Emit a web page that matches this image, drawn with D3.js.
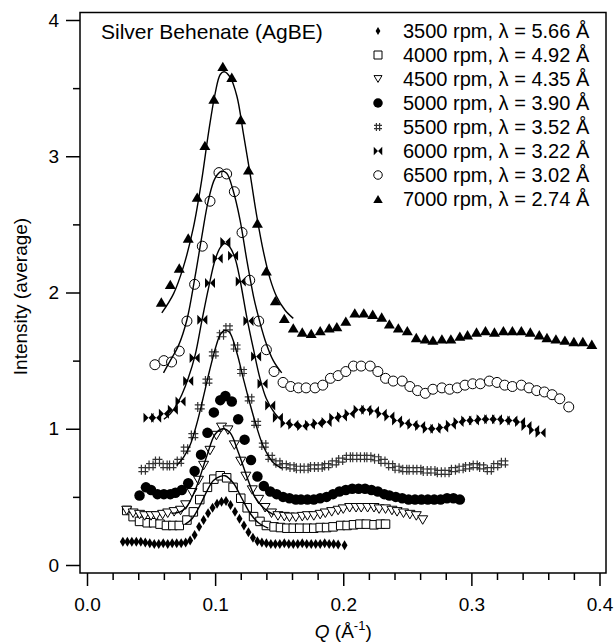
<!DOCTYPE html>
<html>
<head>
<meta charset="utf-8">
<script src="https://cdn.jsdelivr.net/npm/d3@7"></script>
<style>
  body { margin: 0; background: #fff; }
  svg { display: block; font-family: "Liberation Sans", Arial, sans-serif; }
</style>
</head>
<body>
<div id="chart"></div>
<script>
// ---- data: [Q (1/Å), intensity] ----
const rpm3500 = [[0.028,0.17],[0.0315,0.17],[0.035,0.17],[0.0385,0.17],[0.042,0.17],[0.0455,0.165],[0.049,0.16],[0.0525,0.155],[0.056,0.155],[0.0595,0.16],[0.063,0.155],[0.0665,0.16],[0.070,0.16],[0.0735,0.16],[0.077,0.165],[0.0805,0.18],[0.084,0.22],[0.0875,0.28],[0.091,0.33],[0.0945,0.38],[0.098,0.42],[0.1015,0.45],[0.105,0.465],[0.1085,0.47],[0.112,0.44],[0.1155,0.39],[0.119,0.34],[0.1225,0.29],[0.126,0.24],[0.1295,0.20],[0.133,0.175],[0.1365,0.165],[0.140,0.16],[0.1435,0.155],[0.147,0.155],[0.1505,0.155],[0.154,0.16],[0.1575,0.155],[0.161,0.155],[0.1645,0.155],[0.168,0.16],[0.1715,0.155],[0.175,0.155],[0.1785,0.155],[0.182,0.155],[0.1855,0.16],[0.189,0.155],[0.1925,0.155],[0.196,0.15],[0.201,0.145]];
const rpm4000 = [[0.031,0.40],[0.036,0.355],[0.041,0.32],[0.047,0.31],[0.052,0.31],[0.057,0.30],[0.062,0.29],[0.067,0.29],[0.072,0.29],[0.078,0.33],[0.083,0.39],[0.088,0.48],[0.094,0.57],[0.099,0.63],[0.104,0.655],[0.109,0.64],[0.114,0.57],[0.120,0.49],[0.125,0.42],[0.130,0.355],[0.135,0.32],[0.140,0.29],[0.146,0.28],[0.151,0.275],[0.156,0.27],[0.161,0.27],[0.166,0.27],[0.172,0.27],[0.177,0.27],[0.182,0.275],[0.187,0.275],[0.192,0.28],[0.198,0.29],[0.203,0.29],[0.208,0.295],[0.213,0.30],[0.218,0.30],[0.224,0.295],[0.229,0.30],[0.233,0.30]];
const rpm4500 = [[0.031,0.40],[0.036,0.38],[0.041,0.37],[0.045,0.36],[0.050,0.36],[0.054,0.36],[0.059,0.37],[0.063,0.38],[0.068,0.39],[0.073,0.40],[0.077,0.44],[0.082,0.53],[0.087,0.62],[0.091,0.73],[0.096,0.84],[0.101,0.95],[0.105,1.01],[0.110,0.99],[0.115,0.88],[0.120,0.76],[0.124,0.65],[0.129,0.55],[0.134,0.48],[0.139,0.42],[0.144,0.38],[0.149,0.36],[0.154,0.355],[0.158,0.35],[0.163,0.35],[0.168,0.355],[0.172,0.36],[0.177,0.36],[0.182,0.37],[0.186,0.38],[0.191,0.39],[0.196,0.40],[0.200,0.41],[0.205,0.42],[0.210,0.42],[0.214,0.42],[0.219,0.42],[0.224,0.42],[0.228,0.41],[0.233,0.41],[0.238,0.40],[0.242,0.39],[0.247,0.38],[0.252,0.37],[0.257,0.36],[0.262,0.33]];
const rpm5000 = [[0.041,0.51],[0.046,0.57],[0.050,0.55],[0.055,0.52],[0.060,0.52],[0.065,0.52],[0.069,0.53],[0.074,0.55],[0.079,0.60],[0.084,0.69],[0.089,0.81],[0.094,0.97],[0.099,1.12],[0.104,1.21],[0.108,1.24],[0.113,1.20],[0.118,1.07],[0.123,0.92],[0.128,0.77],[0.133,0.65],[0.138,0.58],[0.143,0.54],[0.148,0.52],[0.153,0.50],[0.158,0.49],[0.163,0.48],[0.167,0.48],[0.172,0.48],[0.177,0.48],[0.182,0.49],[0.187,0.50],[0.192,0.52],[0.197,0.54],[0.202,0.55],[0.207,0.56],[0.212,0.56],[0.217,0.56],[0.222,0.55],[0.227,0.54],[0.232,0.52],[0.236,0.51],[0.241,0.50],[0.246,0.49],[0.251,0.48],[0.256,0.48],[0.261,0.48],[0.266,0.48],[0.271,0.48],[0.276,0.48],[0.281,0.49],[0.286,0.49],[0.291,0.48]];
const rpm5500 = [[0.044,0.70],[0.050,0.73],[0.055,0.76],[0.061,0.73],[0.066,0.73],[0.072,0.76],[0.077,0.85],[0.083,0.95],[0.088,1.16],[0.094,1.35],[0.099,1.55],[0.105,1.69],[0.110,1.74],[0.116,1.60],[0.121,1.42],[0.127,1.22],[0.132,1.04],[0.138,0.88],[0.143,0.79],[0.149,0.75],[0.154,0.73],[0.160,0.72],[0.165,0.71],[0.171,0.71],[0.176,0.72],[0.182,0.72],[0.187,0.73],[0.193,0.75],[0.198,0.77],[0.204,0.79],[0.209,0.79],[0.215,0.79],[0.220,0.79],[0.226,0.78],[0.231,0.76],[0.237,0.73],[0.242,0.71],[0.248,0.70],[0.253,0.70],[0.259,0.70],[0.264,0.69],[0.270,0.69],[0.275,0.68],[0.281,0.68],[0.286,0.70],[0.292,0.71],[0.297,0.72],[0.303,0.73],[0.308,0.72],[0.314,0.70],[0.319,0.73],[0.325,0.75]];
const rpm6000 = [[0.048,1.08],[0.054,1.08],[0.060,1.11],[0.067,1.14],[0.073,1.20],[0.079,1.35],[0.084,1.52],[0.090,1.80],[0.096,2.07],[0.102,2.25],[0.108,2.37],[0.114,2.27],[0.120,2.08],[0.126,1.79],[0.132,1.53],[0.137,1.33],[0.143,1.17],[0.149,1.08],[0.155,1.04],[0.161,1.03],[0.168,1.02],[0.174,1.03],[0.180,1.04],[0.187,1.05],[0.193,1.08],[0.199,1.09],[0.205,1.11],[0.212,1.14],[0.218,1.14],[0.224,1.13],[0.230,1.11],[0.236,1.09],[0.242,1.06],[0.248,1.04],[0.254,1.03],[0.260,1.02],[0.266,1.00],[0.272,1.00],[0.278,1.01],[0.284,1.03],[0.290,1.05],[0.296,1.06],[0.302,1.06],[0.308,1.07],[0.314,1.07],[0.320,1.07],[0.326,1.06],[0.332,1.06],[0.338,1.05],[0.343,1.02],[0.349,0.99],[0.354,0.97]];
const rpm6500 = [[0.053,1.47],[0.060,1.50],[0.066,1.49],[0.072,1.57],[0.078,1.79],[0.084,2.06],[0.090,2.34],[0.096,2.67],[0.103,2.88],[0.109,2.87],[0.115,2.74],[0.121,2.44],[0.127,2.09],[0.134,1.79],[0.140,1.58],[0.146,1.42],[0.153,1.34],[0.159,1.31],[0.165,1.30],[0.171,1.30],[0.178,1.30],[0.184,1.32],[0.190,1.37],[0.196,1.39],[0.202,1.42],[0.208,1.46],[0.214,1.46],[0.221,1.46],[0.227,1.42],[0.233,1.37],[0.239,1.35],[0.246,1.35],[0.252,1.31],[0.258,1.28],[0.264,1.26],[0.270,1.29],[0.277,1.30],[0.283,1.29],[0.289,1.30],[0.295,1.32],[0.301,1.33],[0.307,1.33],[0.314,1.35],[0.320,1.34],[0.326,1.32],[0.332,1.31],[0.339,1.32],[0.345,1.30],[0.351,1.28],[0.357,1.27],[0.363,1.25],[0.369,1.22],[0.376,1.16]];
const rpm7000 = [[0.058,1.93],[0.065,2.06],[0.072,2.18],[0.079,2.40],[0.086,2.70],[0.092,3.08],[0.099,3.42],[0.106,3.66],[0.113,3.58],[0.120,3.27],[0.126,2.90],[0.133,2.51],[0.140,2.16],[0.147,1.94],[0.154,1.81],[0.161,1.74],[0.168,1.71],[0.175,1.70],[0.182,1.72],[0.189,1.74],[0.195,1.75],[0.202,1.79],[0.209,1.85],[0.216,1.85],[0.223,1.84],[0.230,1.82],[0.236,1.77],[0.243,1.74],[0.250,1.72],[0.257,1.67],[0.264,1.66],[0.270,1.65],[0.277,1.66],[0.284,1.66],[0.291,1.68],[0.297,1.69],[0.304,1.71],[0.311,1.72],[0.318,1.71],[0.325,1.72],[0.332,1.72],[0.339,1.72],[0.346,1.71],[0.353,1.69],[0.359,1.67],[0.366,1.66],[0.373,1.65],[0.380,1.64],[0.387,1.64],[0.394,1.62]];

// fitted peak curves (solid lines)
const fit4000 = [[0.0767,0.30],[0.082,0.34],[0.0883,0.44],[0.094,0.55],[0.0987,0.62],[0.1039,0.65],[0.1078,0.655],[0.1143,0.60],[0.1208,0.49],[0.1273,0.38],[0.1338,0.31],[0.1415,0.27]];
const fit4500 = [[0.066,0.38],[0.0727,0.39],[0.078,0.43],[0.0857,0.58],[0.0935,0.80],[0.100,0.96],[0.106,1.00],[0.1117,0.97],[0.118,0.83],[0.1247,0.65],[0.131,0.50],[0.1377,0.42],[0.1455,0.37]];
const fit5500 = [[0.070,0.73],[0.0753,0.79],[0.0805,0.88],[0.0855,1.03],[0.0905,1.22],[0.0955,1.42],[0.1005,1.60],[0.104,1.69],[0.107,1.72],[0.111,1.71],[0.1169,1.56],[0.122,1.37],[0.1273,1.18],[0.1325,1.01],[0.1377,0.87],[0.1455,0.75],[0.152,0.71]];
const fit6000 = [[0.060,1.07],[0.065,1.11],[0.069,1.16],[0.074,1.25],[0.079,1.37],[0.0844,1.54],[0.0896,1.79],[0.0948,2.03],[0.100,2.24],[0.104,2.33],[0.1075,2.36],[0.111,2.34],[0.1156,2.25],[0.1195,2.09],[0.1247,1.82],[0.130,1.58],[0.135,1.37],[0.140,1.22],[0.1468,1.11],[0.152,1.06]];
const fit6500 = [[0.0597,1.41],[0.065,1.50],[0.0714,1.61],[0.078,1.80],[0.0844,2.12],[0.0896,2.41],[0.0948,2.68],[0.100,2.84],[0.105,2.89],[0.109,2.875],[0.114,2.75],[0.1195,2.53],[0.1247,2.24],[0.130,1.97],[0.1325,1.87],[0.139,1.65],[0.1454,1.50],[0.152,1.41]];
const fit7000 = [[0.0584,1.85],[0.0675,1.99],[0.0753,2.19],[0.0831,2.48],[0.0896,2.83],[0.0948,3.17],[0.100,3.46],[0.104,3.60],[0.107,3.62],[0.1117,3.58],[0.117,3.44],[0.122,3.17],[0.1273,2.87],[0.1325,2.56],[0.1377,2.30],[0.1429,2.10],[0.148,1.97],[0.1546,1.87],[0.161,1.81]];

const legendLabels = ["3500 rpm, λ = 5.66 Å", "4000 rpm, λ = 4.92 Å", "4500 rpm, λ = 4.35 Å", "5000 rpm, λ = 3.90 Å",
                      "5500 rpm, λ = 3.52 Å", "6000 rpm, λ = 3.22 Å", "6500 rpm, λ = 3.02 Å", "7000 rpm, λ = 2.74 Å"];
const markers = ["diamond", "square", "tridown", "dot", "hash", "bowtie", "circle", "triup"];
const seriesData = [rpm3500, rpm4000, rpm4500, rpm5000, rpm5500, rpm6000, rpm6500, rpm7000];
const fits = [fit4000, fit4500, fit5500, fit6000, fit6500, fit7000];
const xTicks = [0, 0.1, 0.2, 0.3, 0.4];
const yTicks = [0, 1, 2, 3, 4];

// ---- layout ----
const width = 614, height = 643;
const frame = { left: 80, top: 12.5, right: 606, bottom: 573 };

const x = d3.scaleLinear().domain([0, 0.4]).range([87, 599.5]);
const y = d3.scaleLinear().domain([0, 4]).range([565, 20]);

const svg = d3.select("#chart").append("svg")
    .attr("width", width)
    .attr("height", height);

// frame box
svg.append("rect")
    .attr("x", frame.left).attr("y", frame.top)
    .attr("width", frame.right - frame.left)
    .attr("height", frame.bottom - frame.top)
    .attr("fill", "none").attr("stroke", "#000").attr("stroke-width", 1.5);

// axes
function styleAxis(g) {
  g.select(".domain").remove();
  g.selectAll("line").attr("stroke", "#000").attr("stroke-width", 1.5);
  g.selectAll("text").attr("fill", "#000").style("font-size", "19px")
    .style("font-family", '"Liberation Sans", Arial, sans-serif');
}

svg.append("g")
    .attr("transform", `translate(0,${frame.bottom})`)
    .call(d3.axisBottom(x).tickValues(xTicks).tickSize(13).tickPadding(12).tickFormat(d3.format(".1f")))
    .call(styleAxis);

svg.append("g")
    .attr("transform", `translate(0,${frame.bottom})`)
    .call(d3.axisBottom(x).tickValues(d3.range(1, 20).filter(i => i % 5).map(i => i * 0.02)).tickSize(7).tickFormat(""))
    .call(styleAxis);

svg.append("g")
    .attr("transform", `translate(${frame.left},0)`)
    .call(d3.axisLeft(y).tickValues(yTicks).tickSize(14).tickPadding(7).tickFormat(d3.format("d")))
    .call(styleAxis);

svg.append("g")
    .attr("transform", `translate(${frame.left},0)`)
    .call(d3.axisLeft(y).tickValues([0.5, 1.5, 2.5, 3.5]).tickSize(7).tickFormat(""))
    .call(styleAxis);

// axis labels
const xLabel = svg.append("text")
    .attr("x", (x(0) + x(0.4)) / 2)
    .attr("y", 638)
    .attr("text-anchor", "middle")
    .style("font-size", "19px");
xLabel.append("tspan").style("font-style", "italic").text("Q");
xLabel.append("tspan").text(" (Å");
xLabel.append("tspan").attr("dy", -8).style("font-size", "13px").text("-1");
xLabel.append("tspan").attr("dy", 8).text(")");

svg.append("text")
    .attr("transform", `translate(27,${y(2) + 4}) rotate(-90)`)
    .attr("text-anchor", "middle")
    .style("font-size", "19px")
    .text("Intensity (average)");

svg.append("text")
    .attr("x", 101).attr("y", 39)
    .style("font-size", "21px")
    .text("Silver Behenate (AgBE)");

// marker shapes
function markerPath(type, s) {
  const h = s / 2;
  switch (type) {
    case "diamond": return `M0,${-h}L${h * 0.6},0L0,${h}L${-h * 0.6},0Z`;
    case "square": return `M${-h},${-h}H${h}V${h}H${-h}Z`;
    case "tridown": return `M${-h},${-h * 0.85}H${h}L0,${h * 0.85}Z`;
    case "triup": return `M${-h},${h * 0.85}H${h}L0,${-h * 0.85}Z`;
    case "bowtie": return `M${-h},${-h}L0,0L${-h},${h}ZM${h},${-h}L0,0L${h},${h}Z`;
    case "hash": {
      const a = h * 0.4;
      return `M${-a},${-h}V${h}M${a},${-h}V${h}M${-h},${-a}H${h}M${-h},${a}H${h}`;
    }
    default: return d3.symbol(d3.symbolCircle, Math.PI * h * h)();
  }
}

function styleMarker(sel, type) {
  const open = type === "square" || type === "tridown" || type === "circle";
  if (type === "hash") {
    sel.attr("fill", "none").attr("stroke", "#333").attr("stroke-width", 1.2);
  } else if (open) {
    sel.attr("fill", "#fff").attr("stroke", "#000").attr("stroke-width", 1);
  } else {
    sel.attr("fill", "#000").attr("stroke", "none");
  }
}

const plotSize = { diamond: 10, square: 8.5, tridown: 10, dot: 10.5, hash: 10, bowtie: 10, circle: 10, triup: 11 };
const legendSize = { diamond: 8, square: 8, tridown: 8, dot: 9.5, hash: 8, bowtie: 8.5, circle: 8.5, triup: 9.5 };

// data markers
seriesData.forEach((data, i) => {
  const type = markers[i];
  svg.append("g").selectAll("path")
    .data(data)
    .join("path")
      .attr("transform", d => `translate(${x(d[0])},${y(d[1])})`)
      .attr("d", markerPath(type, plotSize[type]))
      .call(styleMarker, type);
});

// fit curves
const line = d3.line()
    .x(d => x(d[0]))
    .y(d => y(d[1]))
    .curve(d3.curveCatmullRom.alpha(0.5));

svg.append("g").selectAll("path")
  .data(fits)
  .join("path")
    .attr("d", line)
    .attr("fill", "none")
    .attr("stroke", "#000")
    .attr("stroke-width", 1.4);

// legend
const legend = svg.append("g");
legendLabels.forEach((label, i) => {
  const cy = 31 + i * 24;
  const type = markers[i];
  legend.append("path")
      .attr("transform", `translate(378,${cy})`)
      .attr("d", markerPath(type, legendSize[type]))
      .call(styleMarker, type);
  legend.append("text")
      .attr("x", 403).attr("y", cy + 7)
      .style("font-size", "20px")
      .text(label);
});
</script>
</body>
</html>
